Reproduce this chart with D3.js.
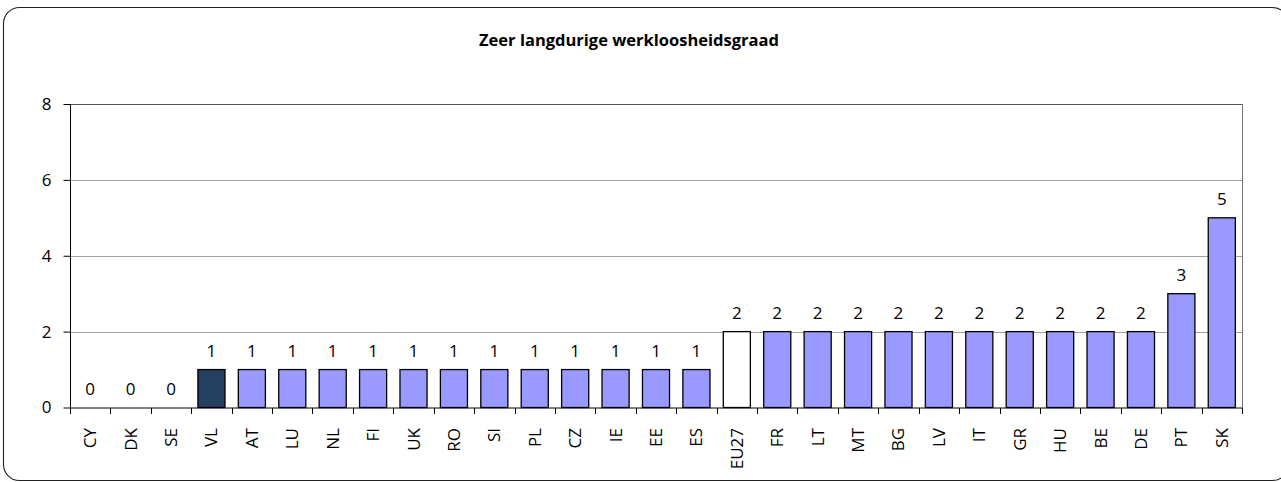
<!DOCTYPE html>
<meta charset="utf-8">
<style>
body { margin: 0; background: #fff; }
text { font-family: "Open Sans", Lato, sans-serif; fill: #000; }
.title { font-weight: bold; font-size: 16.5px; }
.axis text { font-size: 17px; }
.lbl { font-size: 17px; }
</style>
<body>
<script src="https://d3js.org/d3.v7.min.js"></script>
<script>

var countries = ["CY","DK","SE","VL","AT","LU","NL","FI","UK","RO","SI","PL","CZ","IE","EE","ES",
                 "EU27","FR","LT","MT","BG","LV","IT","GR","HU","BE","DE","PT","SK"];
var rates = [0,0,0,1,1,1,1,1,1,1,1,1,1,1,1,1,2,2,2,2,2,2,2,2,2,2,2,3,5];
var yTicks = [0,2,4,6,8];

var width = 1281, height = 482;
var plotLeft = 70, plotRight = 1242, plotTop = 104, plotBottom = 407.5;

var svg = d3.select("body").append("svg")
    .attr("width", width)
    .attr("height", height);

// outer frame
svg.append("rect")
    .attr("x", 3.5).attr("y", 7.5)
    .attr("width", 1285).attr("height", 473)
    .attr("rx", 16).attr("ry", 16)
    .attr("fill", "none").attr("stroke", "#222").attr("stroke-width", 1.1);

svg.append("text")
    .attr("class", "title")
    .attr("x", 629).attr("y", 46)
    .attr("text-anchor", "middle")
    .text("Zeer langdurige werkloosheidsgraad");

var x = d3.scaleBand().domain(countries).range([plotLeft, plotRight]).paddingInner(0.33).paddingOuter(0.165);
var y = d3.scaleLinear().domain([0, 8]).range([plotBottom, plotTop]);

var g = svg.append("g");

// gridlines
g.selectAll(".grid")
    .data(yTicks.filter(function(d) { return d > 0; }))
    .enter().append("line")
    .attr("x1", plotLeft).attr("x2", plotRight)
    .attr("y1", function(d) { return Math.round(y(d)) + 0.5; })
    .attr("y2", function(d) { return Math.round(y(d)) + 0.5; })
    .attr("stroke", function(d) { return d == 8 ? "#555" : "#a0a0a0"; })
    .attr("stroke-width", 1);

// right border of plot
g.append("line")
    .attr("x1", plotRight + 0.5).attr("x2", plotRight + 0.5)
    .attr("y1", plotTop).attr("y2", plotBottom)
    .attr("stroke", "#777");

// bars
g.selectAll(".bar")
    .data(countries)
    .enter().append("rect")
    .attr("class", "bar")
    .attr("x", function(d) { return x(d); })
    .attr("y", function(d, i) { return y(rates[i]); })
    .attr("width", x.bandwidth())
    .attr("height", function(d, i) { return plotBottom - y(rates[i]); })
    .attr("fill", function(d) {
        if (d == "VL") return "#243f60";
        if (d == "EU27") return "#ffffff";
        return "#9999ff";
    })
    .attr("stroke", function(d, i) { return rates[i] > 0 ? "#000" : "none"; })
    .attr("stroke-width", 1.3);

// value labels
g.selectAll(".lbl")
    .data(countries)
    .enter().append("text")
    .attr("class", "lbl")
    .attr("x", function(d) { return x(d) + x.bandwidth() / 2; })
    .attr("y", function(d, i) { return y(rates[i]) - 13; })
    .attr("text-anchor", "middle")
    .text(function(d, i) { return rates[i]; });

// y axis
var yAxis = svg.append("g")
    .attr("class", "axis")
    .attr("transform", "translate(" + (plotLeft + 0.5) + ",0)")
    .call(d3.axisLeft(y).tickValues(yTicks).tickSize(7).tickPadding(12).tickFormat(d3.format("d")));
yAxis.select(".domain").attr("d", "M0," + plotTop + "V" + plotBottom);

// x axis: ticks at band edges
var xAxis = svg.append("g")
    .attr("class", "axis")
    .attr("transform", "translate(0," + (plotBottom + 0.5) + ")");
xAxis.append("line")
    .attr("x1", plotLeft).attr("x2", plotRight + 1)
    .attr("stroke", "#000");
var step = (plotRight - plotLeft) / countries.length;
xAxis.selectAll(".tk")
    .data(d3.range(countries.length + 1))
    .enter().append("line")
    .attr("x1", function(i) { return Math.round(plotLeft + i * step) + 0.5; })
    .attr("x2", function(i) { return Math.round(plotLeft + i * step) + 0.5; })
    .attr("y1", 0).attr("y2", 6)
    .attr("stroke", "#000");
xAxis.selectAll(".xl")
    .data(countries)
    .enter().append("text")
    .attr("transform", function(d) { return "translate(" + (x(d) + x.bandwidth() / 2 + 6) + ",20) rotate(-90)"; })
    .attr("text-anchor", "end")
    .text(function(d) { return d; });

</script>
</body>
